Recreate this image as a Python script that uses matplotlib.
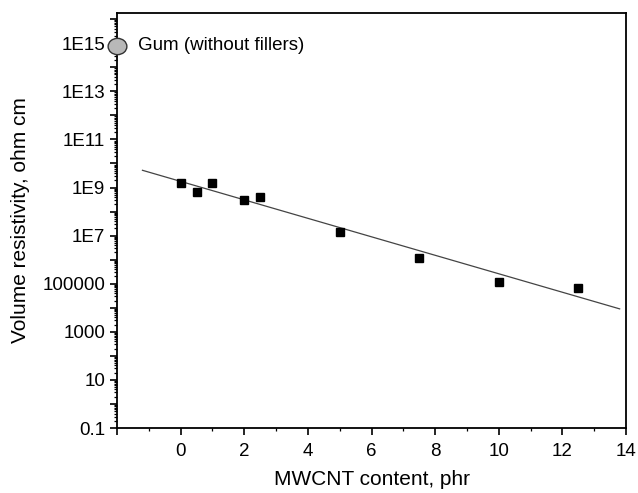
import matplotlib.pyplot as plt
from matplotlib.markers import MarkerStyle
from matplotlib.path import Path
from matplotlib.transforms import Affine2D
from matplotlib.ticker import FixedLocator, LogLocator, NullFormatter

plt.rcParams['font.family'] = ['Liberation Sans', 'DejaVu Sans']

# MWCNT content (phr) and measured volume resistivity (ohm cm)
mwcnt = [0, 0.5, 1, 2, 2.5, 5, 7.5, 10, 12.5]
resistivity = [1.5e9, 6.6e8, 1.6e9, 3.0e8, 4.1e8, 1.4e7, 1.2e6, 1.2e5, 6.4e4]

# gum compound, no filler
gum_x = [-2]
gum_y = [8e14]
gum_label = "Gum (without fillers)"

# fitted trend line, end points
fit_x = [-1.2, 13.8]
fit_y = [5.2e9, 9.0e3]

ytick_vals = [1e-1, 1e1, 1e3, 1e5, 1e7, 1e9, 1e11, 1e13, 1e15]
ytick_labels = ["0.1", "10", "1000", "100000", "1E7", "1E9", "1E11", "1E13", "1E15"]
xtick_vals = [-2, 0, 2, 4, 6, 8, 10, 12, 14]
xtick_labels = ["", "0", "2", "4", "6", "8", "10", "12", "14"]

fig = plt.figure(figsize=(6.38, 4.93), dpi=100)
ax = fig.add_axes([0.1834, 0.1318, 0.7978, 0.8418])

ax.plot(fit_x, fit_y, color='#444444', lw=0.9)
ax.plot(mwcnt, resistivity, 's', color='black', ms=6.3, zorder=3)

# slightly flattened circle for the gum point
ellipse = MarkerStyle(Path.unit_circle().transformed(Affine2D().scale(1.15, 1.0)))
ax.plot(gum_x, gum_y, ls='none', marker=ellipse, ms=13.5, mfc='#b8b8b8',
        mec='#333333', mew=1.0, clip_on=False, zorder=4)
ax.text(-1.35, 8e14, gum_label, fontsize=13.5, va='center', ha='left')

ax.set_yscale('log')
ax.set_xlim(-2, 14)
ax.set_ylim(1e-1, 1.8e16)

ax.yaxis.set_major_locator(FixedLocator([10.0 ** k for k in range(-1, 17)]))
ax.yaxis.set_minor_locator(LogLocator(base=10, subs=range(2, 10), numticks=40))
ax.yaxis.set_minor_formatter(NullFormatter())
labels = []
for k in range(-1, 17):
    v = 10.0 ** k
    labels.append(ytick_labels[ytick_vals.index(v)] if v in ytick_vals else "")
ax.set_yticklabels(labels)

ax.set_xticks(xtick_vals)
ax.set_xticklabels(xtick_labels)
ax.set_xticks([-1, 1, 3, 5, 7, 9, 11, 13], minor=True)

ax.tick_params(which='major', direction='out', length=5, width=1.2, labelsize=13.5)
ax.tick_params(which='major', axis='x', pad=6)
ax.tick_params(which='minor', direction='out', length=2.5, width=0.9)
for s in ax.spines.values():
    s.set_linewidth(1.3)

ax.set_xlabel("MWCNT content, phr", fontsize=15, labelpad=7)
ax.set_ylabel("Volume resistivity, ohm cm", fontsize=15, labelpad=9)

fig.savefig("out.png", dpi=100)
